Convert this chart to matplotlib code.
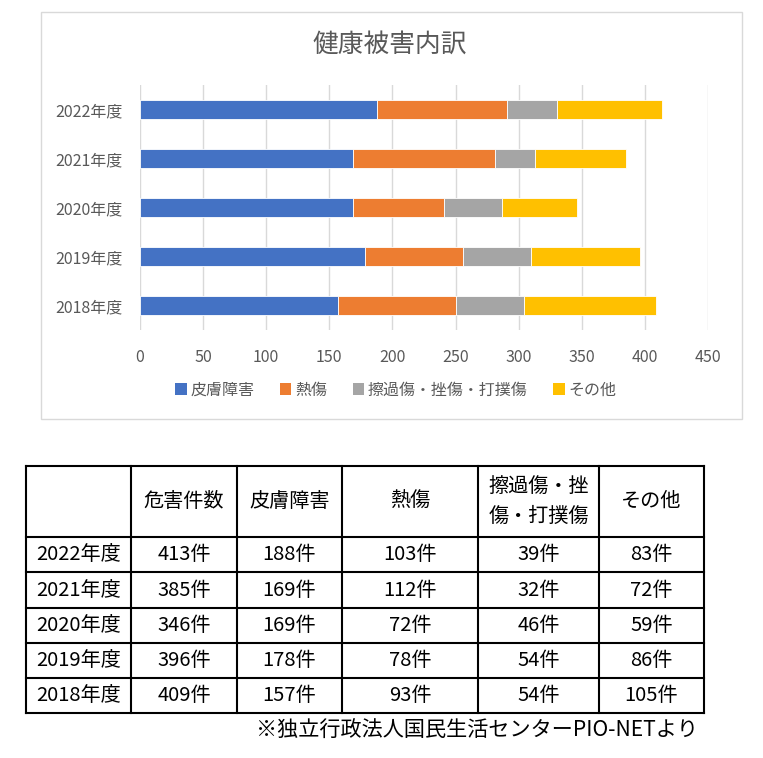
import matplotlib
matplotlib.use('Agg')
import matplotlib.pyplot as plt
from matplotlib.patches import Rectangle, Patch
import numpy as np

plt.rcParams['font.family'] = ['Noto Sans CJK JP', 'DejaVu Sans']

# データ
years = ['2022年度', '2021年度', '2020年度', '2019年度', '2018年度']
total = [413, 385, 346, 396, 409]
skin = [188, 169, 169, 178, 157]
burn = [103, 112, 72, 78, 93]
bruise = [39, 32, 46, 54, 54]
other = [83, 72, 59, 86, 105]

series_names = ['皮膚障害', '熱傷', '擦過傷・挫傷・打撲傷', 'その他']
series_colors = ['#4472C4', '#ED7D31', '#A5A5A5', '#FFC000']
table_header = ['', '危害件数', '皮膚障害', '熱傷', '擦過傷・挫\n傷・打撲傷', 'その他']
title = '健康被害内訳'
note = '※独立行政法人国民生活センターPIO-NETより'

W, H = 763, 758
fig = plt.figure(figsize=(W / 100, H / 100), dpi=100)
fig.patch.set_facecolor('white')

# 下地（枠線と表用）
base = fig.add_axes([0, 0, 1, 1])
base.set_xlim(0, W)
base.set_ylim(H, 0)
base.axis('off')
base.add_patch(Rectangle((41, 12), 701, 407, fill=False, edgecolor='#D9D9D9', linewidth=1))

# グラフ本体
ax = fig.add_axes([139.7 / W, 1 - 330 / H, (708.3 - 139.7) / W, 245 / H])
left = np.zeros(len(years))
for vals, name, col in zip([skin, burn, bruise, other], series_names, series_colors):
    ax.barh(years, vals, left=left, height=0.39, color=col, edgecolor='white',
            linewidth=0.6, label=name, zorder=3)
    left += np.array(vals)
ax.invert_yaxis()
ax.set_xlim(0, 450)
ax.set_ylim(4.5, -0.5)
ax.set_xticks(range(0, 451, 50))
ax.grid(True, axis='x', color='#D9D9D9', linewidth=1, zorder=0)
ax.grid(False, axis='y')
for s in ax.spines.values():
    s.set_visible(False)
ax.tick_params(axis='both', length=0, labelsize=11.5, labelcolor='#595959')
ax.tick_params(axis='x', pad=14)
ax.tick_params(axis='y', pad=12)

fig.text(390 / W, 1 - 45 / H, title, ha='center', va='center', fontsize=18.5, color='#595959')

handles = [Patch(facecolor=c, edgecolor='none') for c in series_colors]
fig.legend(handles, series_names, loc='center', bbox_to_anchor=(396 / W, 1 - 390 / H),
           ncol=4, frameon=False, fontsize=11.5, labelcolor='#595959',
           handlelength=0.7, handleheight=0.7, handletextpad=0.25, columnspacing=1.6)

# 表
col_x = [26, 131, 237, 342, 478, 599, 704]
row_y = [466, 537, 572, 608, 643, 678, 713]
for x in col_x:
    base.plot([x, x], [row_y[0], row_y[-1]], color='black', linewidth=1.5)
for y in row_y:
    base.plot([col_x[0], col_x[-1]], [y, y], color='black', linewidth=1.5)

def cx(i):
    return (col_x[i] + col_x[i + 1]) / 2

def cy(j):
    return (row_y[j] + row_y[j + 1]) / 2

for i, h in enumerate(table_header):
    base.text(cx(i), cy(0), h, ha='center', va='center', fontsize=14.5,
              color='black', linespacing=1.5)

cols = [total, skin, burn, bruise, other]
for j, yr in enumerate(years):
    base.text(cx(0), cy(j + 1), yr, ha='center', va='center', fontsize=14.5, color='black')
    for i, vals in enumerate(cols):
        base.text(cx(i + 1), cy(j + 1), f'{vals[j]}件', ha='center', va='center',
                  fontsize=14.5, color='black')

base.text(698, 731, note, ha='right', va='center', fontsize=15.2, color='black')

fig.savefig('out.png', dpi=100, facecolor='white')
